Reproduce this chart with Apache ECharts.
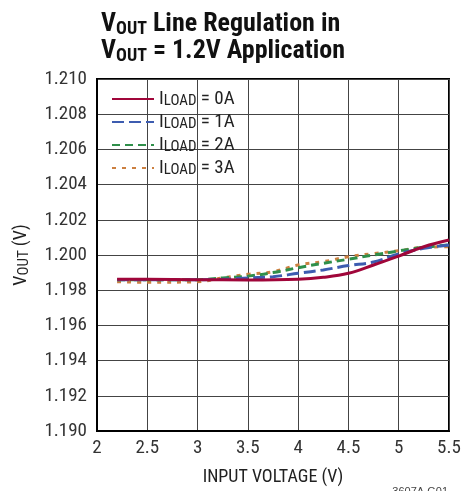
<!DOCTYPE html>
<html><head><meta charset="utf-8">
<script src="https://cdn.jsdelivr.net/npm/echarts@6/dist/echarts.min.js"></script>
<style>html,body{margin:0;padding:0;background:#fff}#c{width:476px;height:491px}</style>
</head><body><div id="c"></div>
<script>
// Input voltage (V) sample points and output voltage (V) per load current
const vin0 = [2.2, 2.5, 3.0, 3.5, 4.0, 4.25, 4.5, 4.75, 5.0, 5.25, 5.5];
const vout0 = [1.19862, 1.19862, 1.19860, 1.19858, 1.19862, 1.19873, 1.19896, 1.19943, 1.19994, 1.20047, 1.20085];
const vin1 = [2.2, 3.0, 3.25, 3.5, 3.75, 4.0, 4.25, 4.5, 4.75, 5.0, 5.25, 5.5];
const vout1 = [1.19860, 1.19860, 1.19862, 1.19870, 1.19877, 1.19896, 1.19915, 1.19940, 1.19960, 1.20006, 1.20038, 1.20057];
const vin2 = [2.2, 3.0, 3.25, 3.5, 3.75, 4.0, 4.25, 4.5, 4.75, 5.0, 5.25, 5.5];
const vout2 = [1.19860, 1.19860, 1.19870, 1.19880, 1.19900, 1.19928, 1.19953, 1.19976, 1.20000, 1.20023, 1.20044, 1.20057];
const vin3 = [2.2, 2.5, 3.0, 3.25, 3.5, 3.75, 4.0, 4.25, 4.5, 4.75, 5.0, 5.25, 5.5];
const vout3 = [1.19848, 1.19845, 1.19848, 1.19870, 1.19890, 1.19905, 1.19943, 1.19962, 1.19990, 1.20008, 1.20024, 1.20044, 1.20047];
const loadNames = ['0A', '1A', '2A', '3A'];
const xTicks = [2, 2.5, 3, 3.5, 4, 4.5, 5, 5.5];
const yTicks = [1.190, 1.192, 1.194, 1.196, 1.198, 1.200, 1.202, 1.204, 1.206, 1.208, 1.210];

const NARROW = '"Liberation Sans Narrow","Roboto Condensed","Liberation Sans",Arial,sans-serif';
const SANS = '"Liberation Sans",Arial,sans-serif';
const pairs = (xs, ys) => xs.map((x, i) => [x, ys[i]]);
const seriesX = [vin0, vin1, vin2, vin3];
const seriesY = [vout0, vout1, vout2, vout3];
const colors = ['#a0063a', '#3d5cb0', '#2f8f4a', '#cc8040'];
const dashes = ['solid', [12, 5], [8, 5], [4, 6]];

const chart = echarts.init(document.getElementById('c'), null, {renderer: 'canvas'});
chart.setOption({
  animation: false,
  backgroundColor: '#fff',
  title: {
    left: 96, top: 6,
    text: '{b|V}{s|OUT}{b| Line Regulation in}\n{b|V}{s|OUT}{b| = 1.2V Application}',
    textStyle: {
      rich: {
        b: {fontFamily: NARROW, fontWeight: 'bold', fontSize: 26, color: '#111', lineHeight: 27},
        s: {fontFamily: NARROW, fontWeight: 'bold', fontSize: 18, color: '#111', lineHeight: 27, padding: [10, 0, 0, 0]}
      }
    }
  },
  grid: {left: 97, top: 79, right: 27, bottom: 60, show: true, borderColor: '#000', borderWidth: 2, containLabel: false},
  legend: {
    left: 106, top: 84, orient: 'vertical', itemWidth: 42, itemHeight: 14, itemGap: 3,
    itemStyle: {opacity: 0},
    data: loadNames.map(n => 'I_LOAD = ' + n),
    formatter: name => '{t|I}{s|LOAD}{t| = ' + name.split('= ')[1] + '}',
    textStyle: {
      rich: {
        t: {fontFamily: NARROW, fontSize: 19, color: '#222', lineHeight: 18},
        s: {fontFamily: NARROW, fontSize: 15, color: '#222', lineHeight: 18, padding: [5, 0, 0, 0]}
      }
    }
  },
  xAxis: {
    type: 'value', min: xTicks[0], max: xTicks[xTicks.length - 1], interval: 0.5,
    name: 'INPUT VOLTAGE (V)', nameLocation: 'middle', nameGap: 37,
    nameTextStyle: {fontFamily: NARROW, fontSize: 18, color: '#222'},
    axisLine: {show: true, lineStyle: {color: '#000', width: 2}},
    axisTick: {show: false},
    axisLabel: {fontFamily: NARROW, fontSize: 19, color: '#333', margin: 8, formatter: v => String(v)},
    splitLine: {show: true, lineStyle: {color: '#444', width: 1}}
  },
  yAxis: {
    type: 'value', min: yTicks[0], max: yTicks[yTicks.length - 1], interval: 0.002,
    name: '{t|V}{s|OUT}{t| (V)}', nameLocation: 'middle', nameGap: 66, nameRotate: 90,
    nameTextStyle: {
      rich: {
        t: {fontFamily: NARROW, fontSize: 18, color: '#222', lineHeight: 20},
        s: {fontFamily: NARROW, fontSize: 15, color: '#222', lineHeight: 20, padding: [6, 0, 0, 0]}
      }
    },
    axisLine: {show: true, lineStyle: {color: '#000', width: 2}},
    axisTick: {show: false},
    axisLabel: {fontFamily: NARROW, fontSize: 19, color: '#333', margin: 10, formatter: v => v.toFixed(3)},
    splitLine: {show: true, lineStyle: {color: '#444', width: 1}}
  },
  series: loadNames.map((n, i) => ({
    name: 'I_LOAD = ' + n,
    type: 'line',
    smooth: 0.4,
    showSymbol: false,
    symbol: 'none',
    z: 10 - i + (i === 0 ? 10 : 0),
    data: pairs(seriesX[i], seriesY[i]),
    itemStyle: {color: colors[i]},
    lineStyle: {color: colors[i], width: 3, type: dashes[i]}
  })),
  graphic: [{
    type: 'text', right: 28, bottom: -6,
    style: {text: '3607A G01', font: '11px ' + SANS, fill: '#444'}
  }]
});
</script></body></html>
